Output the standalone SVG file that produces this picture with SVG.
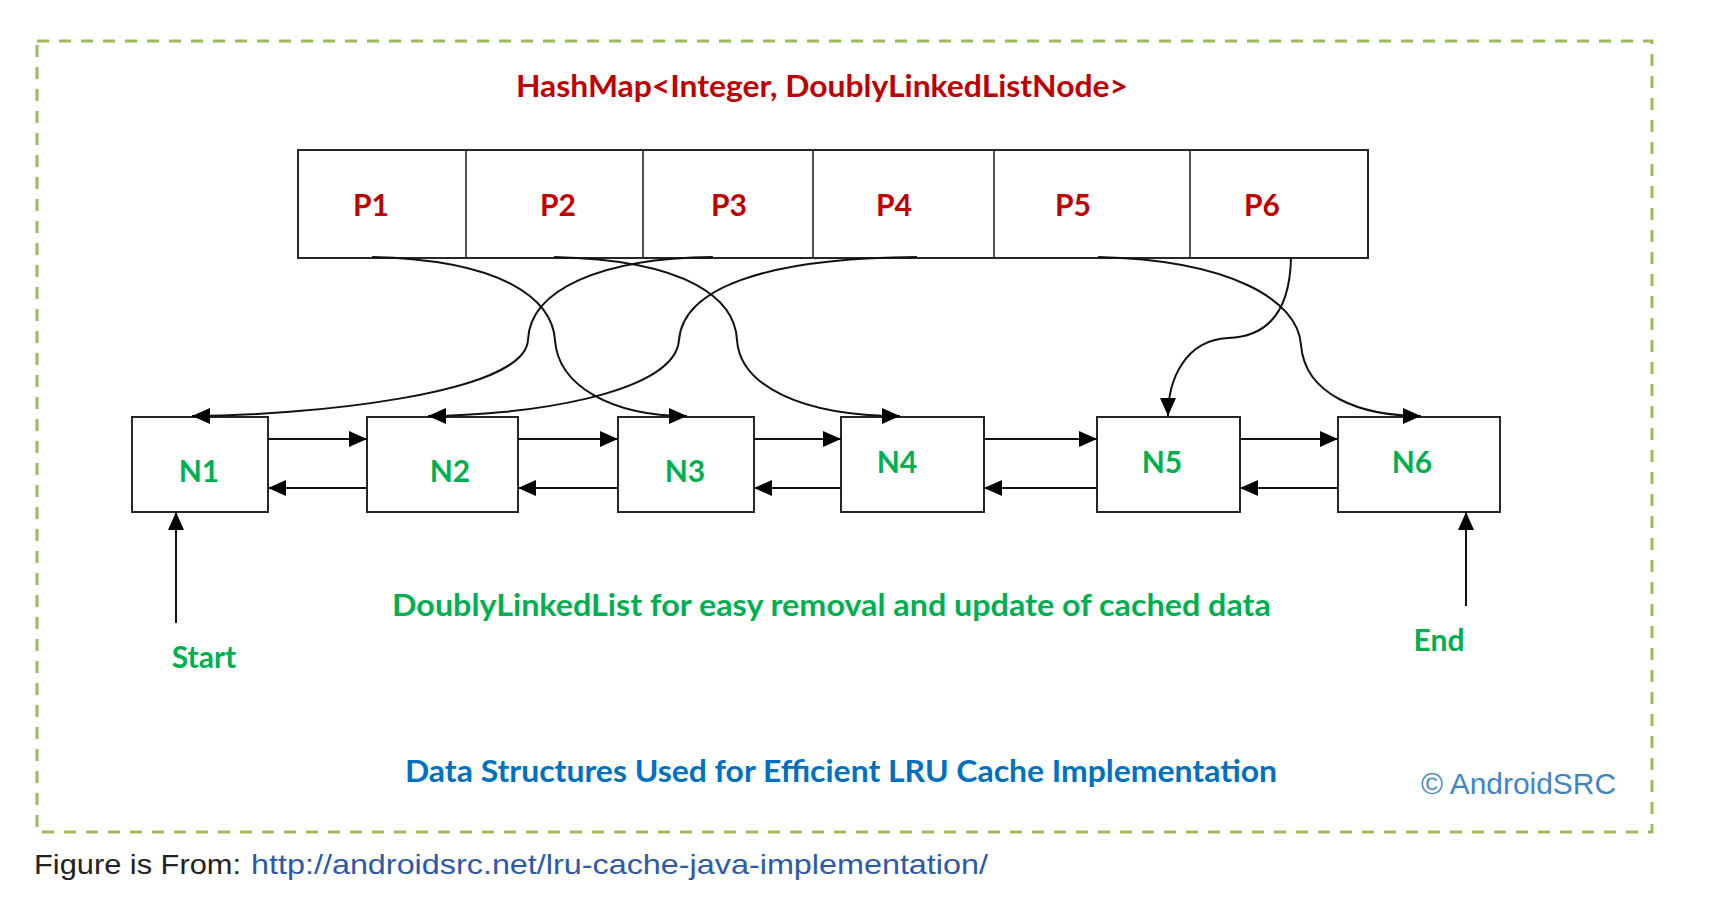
<svg xmlns="http://www.w3.org/2000/svg" width="1714" height="899" viewBox="0 0 1714 899">
  <style>
    .box { fill: #ffffff; stroke: #262626; stroke-width: 2; }
    .div { stroke: #262626; stroke-width: 1.6; }
    .lbl { font-family: Lato, "Open Sans", "Liberation Sans", sans-serif; font-weight: bold; font-size: 30px; }
    .red { fill: #c00000; }
    .green { fill: #00b050; }
    .blue { fill: #0070c0; }
    .conn { fill: none; stroke: #111111; stroke-width: 2; }
    .frame { fill: none; stroke: #9bbb59; stroke-width: 3; stroke-dasharray: 12 10; }
    .cap { font-family: "Liberation Sans", Arial, sans-serif; font-size: 28px; }
  </style>
  <defs>
    <marker id="arrow" markerUnits="userSpaceOnUse" viewBox="0 0 18 16" markerWidth="18" markerHeight="16" refX="18" refY="8" orient="auto">
      <path d="M0,0 L18,8 L0,16 z" fill="#000000"/>
    </marker>
  </defs>

  <rect class="frame" x="37" y="41" width="1615" height="791"/>

  <text id="title" class="lbl red" x="516" y="97" textLength="612" lengthAdjust="spacingAndGlyphs">HashMap&lt;Integer, DoublyLinkedListNode&gt;</text>

  <g id="hashmap">
    <rect class="box" x="298" y="150" width="1070" height="108"/>
    <g id="P1"><line class="div" x1="466" y1="150" x2="466" y2="258"/><text class="lbl red" x="371" y="216" text-anchor="middle">P1</text></g>
    <g id="P2"><line class="div" x1="643" y1="150" x2="643" y2="258"/><text class="lbl red" x="558" y="216" text-anchor="middle">P2</text></g>
    <g id="P3"><line class="div" x1="813" y1="150" x2="813" y2="258"/><text class="lbl red" x="729" y="216" text-anchor="middle">P3</text></g>
    <g id="P4"><line class="div" x1="994" y1="150" x2="994" y2="258"/><text class="lbl red" x="894" y="216" text-anchor="middle">P4</text></g>
    <g id="P5"><line class="div" x1="1190" y1="150" x2="1190" y2="258"/><text class="lbl red" x="1073" y="216" text-anchor="middle">P5</text></g>
    <g id="P6"><text class="lbl red" x="1262" y="216" text-anchor="middle">P6</text></g>
  </g>

  <g id="N1"><rect class="box" x="132" y="417" width="136" height="95"/><text class="lbl green" x="199" y="482" text-anchor="middle">N1</text></g>
  <g id="N2"><rect class="box" x="367" y="417" width="151" height="95"/><text class="lbl green" x="450" y="482" text-anchor="middle">N2</text></g>
  <g id="N3"><rect class="box" x="618" y="417" width="136" height="95"/><text class="lbl green" x="685" y="482" text-anchor="middle">N3</text></g>
  <g id="N4"><rect class="box" x="841" y="417" width="143" height="95"/><text class="lbl green" x="897" y="473" text-anchor="middle">N4</text></g>
  <g id="N5"><rect class="box" x="1097" y="417" width="143" height="95"/><text class="lbl green" x="1162" y="473" text-anchor="middle">N5</text></g>
  <g id="N6"><rect class="box" x="1338" y="417" width="162" height="95"/><text class="lbl green" x="1412" y="473" text-anchor="middle">N6</text></g>

  <g id="connectors">
    <path class="conn" marker-end="url(#arrow)" d="M372,257 C505,260 552,300 555,340 C558,385 610,416 687,416"/>
    <path class="conn" marker-end="url(#arrow)" d="M713,257 C600,258 530,290 528,340 C525,395 300,416 192,416"/>
    <path class="conn" marker-end="url(#arrow)" d="M554,257 C690,260 735,300 737,340 C740,385 800,416 900,416"/>
    <path class="conn" marker-end="url(#arrow)" d="M917,257 C760,258 683,290 679,340 C675,395 520,416 428,416"/>
    <path class="conn" marker-end="url(#arrow)" d="M1098,257 C1230,260 1298,300 1301,345 C1305,395 1360,416 1421,416"/>
    <path class="conn" marker-end="url(#arrow)" d="M1291,257 C1290,320 1260,337 1228,338 C1185,340 1168,380 1168,416"/>

    <path class="conn" marker-end="url(#arrow)" d="M268,439 L367,439"/>
    <path class="conn" marker-end="url(#arrow)" d="M367,488 L268,488"/>
    <path class="conn" marker-end="url(#arrow)" d="M518,439 L618,439"/>
    <path class="conn" marker-end="url(#arrow)" d="M618,488 L518,488"/>
    <path class="conn" marker-end="url(#arrow)" d="M754,439 L841,439"/>
    <path class="conn" marker-end="url(#arrow)" d="M841,488 L754,488"/>
    <path class="conn" marker-end="url(#arrow)" d="M984,439 L1097,439"/>
    <path class="conn" marker-end="url(#arrow)" d="M1097,488 L984,488"/>
    <path class="conn" marker-end="url(#arrow)" d="M1240,439 L1338,439"/>
    <path class="conn" marker-end="url(#arrow)" d="M1338,488 L1240,488"/>

    <path class="conn" marker-end="url(#arrow)" d="M176,623 L176,512"/>
    <path class="conn" marker-end="url(#arrow)" d="M1466,606 L1466,512"/>
  </g>

  <text id="start" class="lbl green" x="204" y="668" text-anchor="middle">Start</text>
  <text id="end" class="lbl green" x="1439" y="651" text-anchor="middle">End</text>

  <text id="dll" class="lbl green" x="392" y="616" textLength="879" lengthAdjust="spacingAndGlyphs">DoublyLinkedList for easy removal and update of cached data</text>
  <text id="caption" class="lbl blue" x="405" y="782" textLength="872" lengthAdjust="spacingAndGlyphs">Data Structures Used for Efficient LRU Cache Implementation</text>

  <text id="copyright" x="1421" y="794" textLength="195" lengthAdjust="spacingAndGlyphs" style="font-family: 'Liberation Sans', Arial, sans-serif; font-size: 30px; fill: #3d85c6;">© AndroidSRC</text>

  <text class="cap" x="34" y="874" textLength="207" lengthAdjust="spacingAndGlyphs" fill="#222222">Figure is From:</text>
  <text class="cap" x="251" y="874" textLength="737" lengthAdjust="spacingAndGlyphs" fill="#2d5aa8">http://androidsrc.net/lru-cache-java-implementation/</text>
</svg>
